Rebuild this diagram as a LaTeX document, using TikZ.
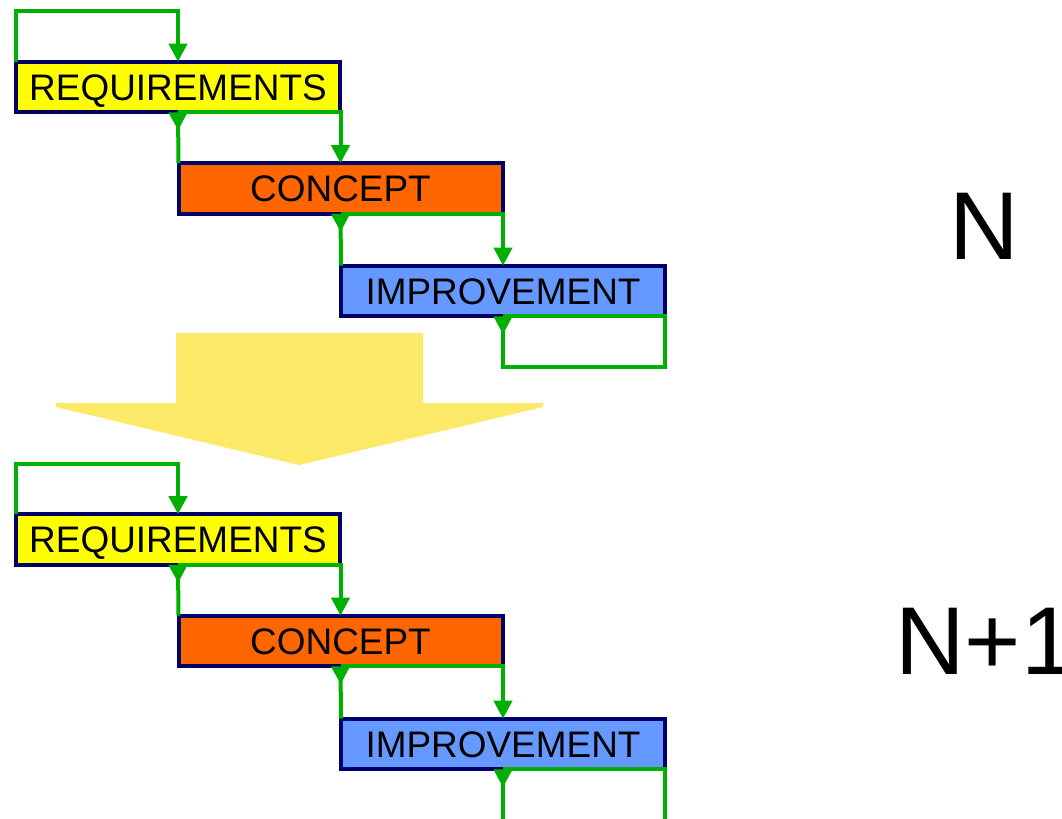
\documentclass[tikz,border=0pt]{standalone}
\usepackage{fontspec}
\setmainfont{Liberation Sans}
\usetikzlibrary{arrows.meta}

\definecolor{loopgreen}{RGB}{0,176,0}
\definecolor{boxnavy}{RGB}{0,0,102}
\definecolor{reqyellow}{RGB}{255,255,0}
\definecolor{conorange}{RGB}{255,102,0}
\definecolor{impblue}{RGB}{102,153,255}
\definecolor{passyellow}{RGB}{253,233,104}

\begin{document}
\begin{tikzpicture}[x=0.75pt, y=-0.75pt,
    stage/.style={draw=boxnavy, line width=3pt, minimum width=243pt, minimum height=38pt,
        inner sep=0pt, outer sep=0pt, text height=19.8pt, text depth=0pt,
        font=\fontsize{27.7}{30}\selectfont},
    flow/.style={loopgreen, line width=3pt, -{Triangle[length=13.5pt 0 0,width=13.5pt 0 0]}},
    back/.style={loopgreen, line width=3pt, {Triangle[reversed,length=13.5pt 0 0,width=13.5pt 0 0]}-},
    iter/.style={inner sep=0pt, font=\fontsize{72.3}{80}\selectfont}]

    \useasboundingbox (0,0) rectangle (1062,818);
    \clip (0,0) rectangle (1062,818);

    % passing on to the next iteration
    \fill[passyellow] (176,333) -- (423,333) -- (423,403) -- (543,403) -- (543,407)
        -- (299,465) -- (56,407) -- (56,403) -- (176,403) -- cycle;

    % iteration N
    \node[stage, fill=reqyellow] (req1) at (178,87) {REQUIREMENTS};
    \node[stage, fill=conorange] (conc1) at (340.5,188.5) {CONCEPT};
    \node[stage, fill=impblue] (impr1) at (503,291) {IMPROVEMENT};

    \draw[flow] (req1.north west) -- ++(0,-50.5) -| (req1.north);
    \draw[back] (req1.south) -- (conc1.north west);
    \draw[flow] (req1.south) -| (conc1.north);
    \draw[back] (conc1.south) -- (impr1.north west);
    \draw[flow] (conc1.south) -| (impr1.north);
    \draw[back] (impr1.south) -- ++(0,50.5) -| (impr1.south east) -- (impr1.south);

    % iteration N+1
    \node[stage, fill=reqyellow] (req2) at (178,539.5) {REQUIREMENTS};
    \node[stage, fill=conorange] (conc2) at (340.5,641) {CONCEPT};
    \node[stage, fill=impblue] (impr2) at (503,744) {IMPROVEMENT};

    \draw[flow] (req2.north west) -- ++(0,-50.5) -| (req2.north);
    \draw[back] (req2.south) -- (conc2.north west);
    \draw[flow] (req2.south) -| (conc2.north);
    \draw[back] (conc2.south) -- (impr2.north west);
    \draw[flow] (conc2.south) -| (impr2.north);
    \draw[back] (impr2.south) -- ++(0,51.5) -| (impr2.south east) -- (impr2.south);

    \node[iter, anchor=base] (iterN) at (984.5,259) {N};
    \node[iter, anchor=base west] (iterN1) at (895,674) {N+1};

\end{tikzpicture}
\end{document}
